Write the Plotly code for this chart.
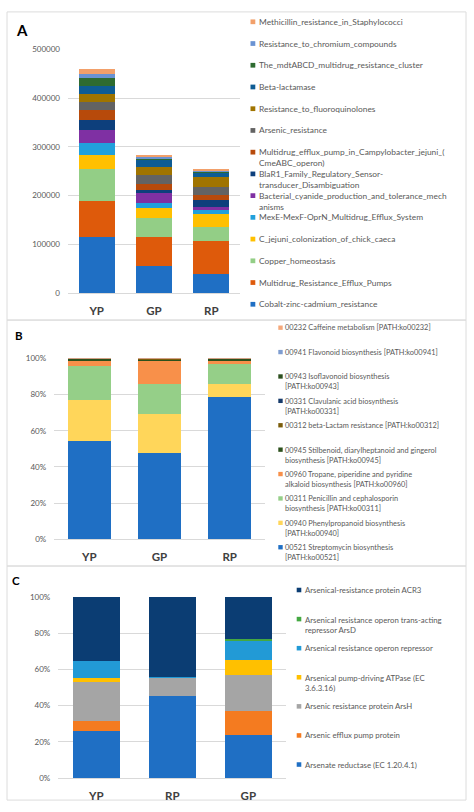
import plotly.graph_objects as go

W, H = 474, 812

# ---------------- data ----------------
A_CATS = ["YP", "GP", "RP"]
A_SERIES = [
    "Cobalt-zinc-cadmium_resistance",
    "Multidrug_Resistance_Efflux_Pumps",
    "Copper_homeostasis",
    "C_jejuni_colonization_of_chick_caeca",
    "MexE-MexF-OprN_Multidrug_Efflux_System",
    "Bacterial_cyanide_production_and_tolerance_mechanisms",
    "BlaR1_Family_Regulatory_Sensor-transducer_Disambiguation",
    "Multidrug_efflux_pump_in_Campylobacter_jejuni_(CmeABC_operon)",
    "Arsenic_resistance",
    "Resistance_to_fluoroquinolones",
    "Beta-lactamase",
    "The_mdtABCD_multidrug_resistance_cluster",
    "Resistance_to_chromium_compounds",
    "Methicillin_resistance_in_Staphylococci",
]
A_YP = [115000, 74000, 65500, 29000, 25100, 25600, 21600, 20300, 15600, 16800, 15500, 17000, 9500, 8700]
A_GP = [55500, 58700, 39200, 20300, 12200, 20300, 4700, 12200, 19200, 16500, 13600, 2600, 4700, 4100]
A_RP = [39000, 68300, 27700, 26400, 10100, 6100, 13500, 9600, 17600, 19700, 8700, 2000, 2000, 2700]

B_CATS = ["YP", "GP", "RP"]
B_SERIES = [
    "00521 Streptomycin biosynthesis [PATH:ko00521]",
    "00940 Phenylpropanoid biosynthesis [PATH:ko00940]",
    "00311 Penicillin and cephalosporin biosynthesis [PATH:ko00311]",
    "00960 Tropane, piperidine and pyridine alkaloid biosynthesis [PATH:ko00960]",
    "00945 Stilbenoid, diarylheptanoid and gingerol biosynthesis [PATH:ko00945]",
    "00312 beta-Lactam resistance [PATH:ko00312]",
    "00331 Clavulanic acid biosynthesis [PATH:ko00331]",
    "00943 Isoflavonoid biosynthesis [PATH:ko00943]",
    "00941 Flavonoid biosynthesis [PATH:ko00941]",
    "00232 Caffeine metabolism [PATH:ko00232]",
]
B_YP = [54.5, 22.4, 18.6, 3.2, 0.9, 0.2, 0.1, 0.05, 0.03, 0.02]
B_GP = [47.8, 21.5, 16.7, 12.7, 0.2, 0.9, 0.1, 0.05, 0.02, 0.03]
B_RP = [78.4, 7.6, 10.6, 2.1, 0.8, 0.3, 0.1, 0.05, 0.03, 0.02]

C_CATS = ["YP", "RP", "GP"]
C_SERIES = [
    "Arsenate reductase (EC 1.20.4.1)",
    "Arsenic efflux pump protein",
    "Arsenic resistance protein ArsH",
    "Arsenical pump-driving ATPase (EC 3.6.3.16)",
    "Arsenical resistance operon repressor",
    "Arsenical resistance operon trans-acting repressor ArsD",
    "Arsenical-resistance protein ACR3",
]
C_YP = [26.0, 5.3, 22.0, 2.0, 9.4, 0.0, 35.3]
C_RP = [45.3, 0.0, 10.2, 0.0, 0.5, 0.0, 44.0]
C_GP = [23.5, 13.6, 20.0, 8.2, 10.7, 0.5, 23.5]

# ---------------- styles ----------------
A_COLORS = ["#1F6FC4", "#DE5A0B", "#93CE86", "#FFC000", "#21A0DC", "#7F30A3",
            "#0D3F7C", "#B74A0B", "#636363", "#A07400", "#0E5C94", "#2E6B30",
            "#6A93D3", "#F2A06A"]
B_COLORS = ["#1F6FC4", "#FFD65A", "#95CF88", "#F8904A", "#2C501C", "#7A5C0A",
            "#173B6B", "#2C4F1E", "#7E9DD0", "#F5A87A"]
C_COLORS = ["#1F6FC4", "#F47B20", "#A5A5A5", "#FFC000", "#229AD6", "#44A842", "#0B3D73"]

WRAP = {
    "Multidrug_efflux_pump_in_Campylobacter_jejuni_(CmeABC_operon)":
        "Multidrug_efflux_pump_in_Campylobacter_jejuni_(<br>CmeABC_operon)",
    "BlaR1_Family_Regulatory_Sensor-transducer_Disambiguation":
        "BlaR1_Family_Regulatory_Sensor-<br>transducer_Disambiguation",
    "Bacterial_cyanide_production_and_tolerance_mechanisms":
        "Bacterial_cyanide_production_and_tolerance_mech<br>anisms",
    "00943 Isoflavonoid biosynthesis [PATH:ko00943]":
        "00943 Isoflavonoid biosynthesis<br>[PATH:ko00943]",
    "00331 Clavulanic acid biosynthesis [PATH:ko00331]":
        "00331 Clavulanic acid biosynthesis<br>[PATH:ko00331]",
    "00945 Stilbenoid, diarylheptanoid and gingerol biosynthesis [PATH:ko00945]":
        "00945 Stilbenoid, diarylheptanoid and gingerol<br>biosynthesis [PATH:ko00945]",
    "00960 Tropane, piperidine and pyridine alkaloid biosynthesis [PATH:ko00960]":
        "00960 Tropane, piperidine and pyridine<br>alkaloid biosynthesis [PATH:ko00960]",
    "00311 Penicillin and cephalosporin biosynthesis [PATH:ko00311]":
        "00311 Penicillin and cephalosporin<br>biosynthesis [PATH:ko00311]",
    "00940 Phenylpropanoid biosynthesis [PATH:ko00940]":
        "00940 Phenylpropanoid biosynthesis<br>[PATH:ko00940]",
    "00521 Streptomycin biosynthesis [PATH:ko00521]":
        "00521 Streptomycin biosynthesis<br>[PATH:ko00521]",
    "Arsenical resistance operon trans-acting repressor ArsD":
        "Arsenical resistance operon trans-acting<br>repressor ArsD",
    "Arsenical pump-driving ATPase (EC 3.6.3.16)":
        "Arsenical pump-driving ATPase (EC<br>3.6.3.16)",
}

FONT = "Lato"
TXT = "#595959"
GRID = "#D9D9D9"


def px(x):
    return x / W


def py(y):
    return 1 - y / H


fig = go.Figure()


def add_panel(series, cols, cats, colors, xa, ya, width, pct):
    totals = [sum(c) for c in cols]
    for i, name in enumerate(series):
        vals = [c[i] for c in cols]
        if pct:
            vals = [v / t * 100 for v, t in zip(vals, totals)]
        fig.add_trace(go.Bar(
            name=name, x=cats, y=vals, xaxis=xa, yaxis=ya, width=width,
            marker=dict(color=colors[i], line=dict(width=0)),
            showlegend=False,
        ))


add_panel(A_SERIES, [A_YP, A_GP, A_RP], A_CATS, A_COLORS, "x", "y", 0.626, False)
add_panel(B_SERIES, [B_YP, B_GP, B_RP], B_CATS, B_COLORS, "x2", "y2", 0.617, True)
add_panel(C_SERIES, [C_YP, C_RP, C_GP], C_CATS, C_COLORS, "x3", "y3", 0.622, True)

shapes = []
annotations = []

# panel frames
for (t, b) in [(7, 319), (319, 568), (568, 805)]:
    shapes.append(dict(type="rect", xref="paper", yref="paper",
                       x0=px(7), x1=px(466), y0=py(b), y1=py(t),
                       line=dict(color="#DCDCDC", width=1), layer="below"))

# panel letters
for letter, x, y, s in [("A", 21.7, 25.7, 15), ("B", 19, 334.5, 11.5), ("C", 16, 582.5, 11.5)]:
    annotations.append(dict(text=letter, x=px(x), y=py(y), xref="paper", yref="paper",
                            showarrow=False, xanchor="center", yanchor="middle",
                            font=dict(family=FONT, size=s, color="#000000", weight="bold")))


def add_legend(series, colors, top, step, sq_x, sq_size, text_x, line_h, fsize):
    n = len(series)
    for k in range(n):
        i = n - 1 - k  # reversed order, top entry = last series
        name = series[i]
        label = WRAP.get(name, name)
        nlines = label.count("<br>") + 1
        yc = top + k * step
        shapes.append(dict(type="rect", xref="paper", yref="paper",
                           x0=px(sq_x), x1=px(sq_x + sq_size),
                           y0=py(yc + sq_size / 2), y1=py(yc - sq_size / 2),
                           fillcolor=colors[i], line=dict(width=0)))
        ymid = yc + (nlines - 1) * line_h / 2
        annotations.append(dict(text=label, x=px(text_x), y=py(ymid), xref="paper", yref="paper",
                                showarrow=False, xanchor="left", yanchor="middle", align="left",
                                borderpad=0,
                                font=dict(family=FONT, size=fsize, color=TXT)))


add_legend(A_SERIES, A_COLORS, 17, 22, 250.5, 4.8, 257.5, 11, 8.4)
add_legend(B_SERIES, B_COLORS, 326.7, 24.7, 278.3, 4.4, 283.5, 11, 7.4)
add_legend(C_SERIES, C_COLORS, 592.3, 29.45, 296.7, 4.6, 304, 11.6, 7.8)

cat_font = dict(family=FONT, size=11.5, color="#404040", weight="bold")
tick_font = dict(family=FONT, size=8, color=TXT)


def xaxis(domain, anchor):
    return dict(domain=domain, anchor=anchor, showgrid=False, showline=False, zeroline=False,
                ticks="", tickfont=cat_font, ticklabelstandoff=9, fixedrange=True)


def yaxis(domain, anchor, rng, dtick, fmt, suffix):
    return dict(domain=domain, anchor=anchor, range=rng, dtick=dtick, tickformat=fmt,
                ticksuffix=suffix, showgrid=True, gridcolor=GRID, gridwidth=1,
                zeroline=True, zerolinecolor=GRID, zerolinewidth=1, showline=False,
                ticks="", tickfont=tick_font, ticklabelstandoff=7, fixedrange=True)


fig.update_layout(
    width=W, height=H,
    margin=dict(l=0, r=0, t=0, b=0),
    paper_bgcolor="white", plot_bgcolor="white",
    barmode="stack", showlegend=False,
    font=dict(family=FONT, color=TXT),
    xaxis=xaxis([px(68), px(240)], "y"),
    yaxis=yaxis([py(291.7), py(45)], "x", [0, 500000], 100000, "d", ""),
    xaxis2=xaxis([px(54.2), px(264.8)], "y2"),
    yaxis2=yaxis([py(541), py(357.7)], "x2", [0, 100], 20, "d", "%"),
    xaxis3=xaxis([px(58.3), px(286.3)], "y3"),
    yaxis3=yaxis([py(782.7), py(599.3)], "x3", [0, 100], 20, "d", "%"),
    shapes=shapes,
    annotations=annotations,
)

fig.write_html("out.html", config={"displayModeBar": False},
               post_script="document.body.style.margin='0px';document.body.style.overflow='hidden';")
